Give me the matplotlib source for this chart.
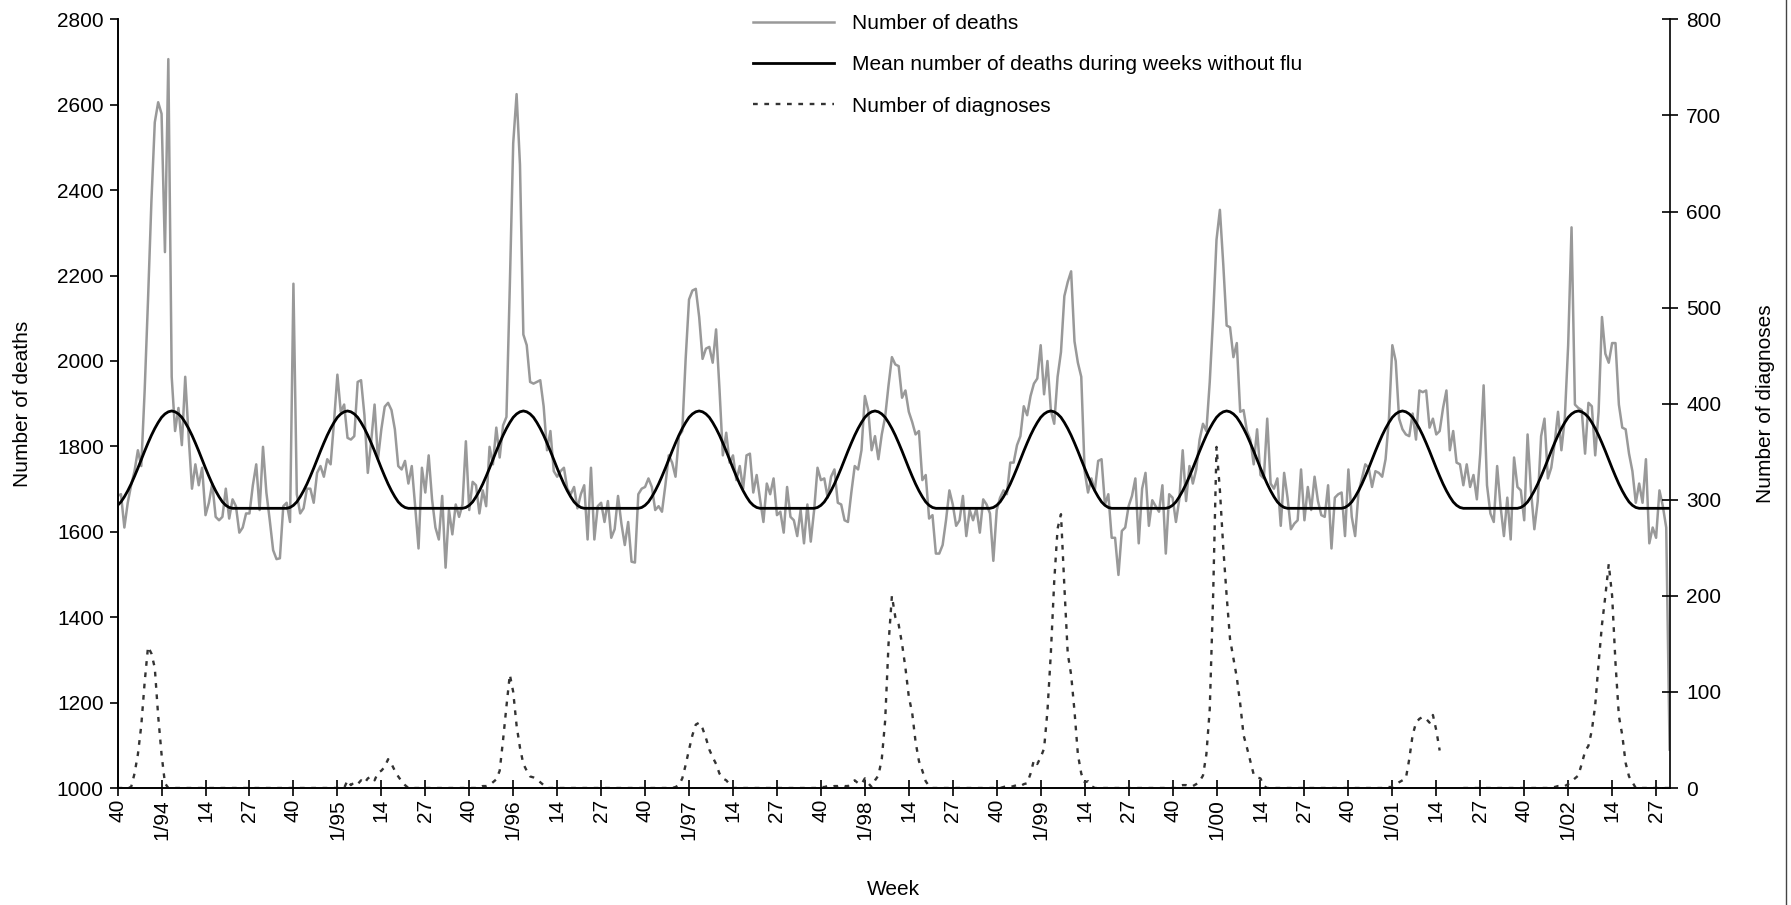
import numpy as np
import matplotlib
matplotlib.use("Agg")
import matplotlib.pyplot as plt
from matplotlib.lines import Line2D

plt.rcParams['font.family'] = ['Liberation Sans', 'DejaVu Sans']

# ---------------- data ----------------
WEEK_LABELS = ["40", "1/94", "14", "27", "40", "1/95", "14", "27", "40", "1/96", "14", "27",
               "40", "1/97", "14", "27", "40", "1/98", "14", "27", "40", "1/99", "14", "27",
               "40", "1/00", "14", "27", "40", "1/01", "14", "27", "40", "1/02", "14", "27"]

# weekly number of deaths, starting week 40 of 1993
DEATHS = [
    1684, 1688, 1610, 1668, 1709, 1742, 1791, 1754, 1930, 2144,
    2374, 2559, 2606, 2579, 2255, 2707, 1963, 1836, 1890, 1803,
    1963, 1824, 1701, 1758, 1709, 1750, 1639, 1668, 1713, 1635,
    1627, 1635, 1701, 1631, 1676, 1660, 1598, 1610, 1643, 1643,
    1709, 1758, 1651, 1799, 1692, 1627, 1557, 1536, 1538, 1660,
    1668, 1623, 2181, 1688, 1643, 1655, 1701, 1701, 1668, 1738,
    1754, 1729, 1770, 1758, 1857, 1968, 1881, 1898, 1820, 1816,
    1824, 1951, 1955, 1873, 1738, 1812, 1898, 1770, 1840, 1893,
    1902, 1885, 1840, 1754, 1746, 1766, 1713, 1754, 1660, 1561,
    1750, 1692, 1779, 1676, 1610, 1582, 1684, 1516, 1651, 1594,
    1664, 1635, 1664, 1812, 1651, 1717, 1709, 1643, 1697, 1660,
    1799, 1758, 1844, 1774, 1849, 1869, 2177, 2510, 2625, 2460,
    2062, 2037, 1951, 1947, 1951, 1955, 1894, 1791, 1836, 1742,
    1729, 1742, 1750, 1701, 1688, 1705, 1655, 1688, 1709, 1582,
    1750, 1582, 1660, 1668, 1623, 1672, 1586, 1606, 1684, 1619,
    1569, 1623, 1530, 1528, 1688, 1701, 1705, 1725, 1705, 1651,
    1660, 1647, 1709, 1779, 1762, 1729, 1824, 1836, 2005, 2144,
    2165, 2169, 2103, 2005, 2029, 2033, 1996, 2074, 1935, 1779,
    1832, 1762, 1779, 1721, 1754, 1701, 1779, 1783, 1692, 1733,
    1676, 1623, 1713, 1688, 1725, 1639, 1647, 1598, 1705, 1635,
    1627, 1590, 1651, 1573, 1664, 1577, 1651, 1750, 1721, 1725,
    1680, 1729, 1746, 1668, 1664, 1627, 1623, 1692, 1754, 1746,
    1791, 1918, 1885, 1791, 1824, 1770, 1828, 1869, 1943, 2009,
    1992, 1988, 1914, 1931, 1881, 1857, 1828, 1836, 1721, 1733,
    1631, 1639, 1549, 1549, 1569, 1627, 1697, 1664, 1614, 1627,
    1684, 1590, 1651, 1627, 1655, 1598, 1676, 1664, 1643, 1532,
    1651, 1680, 1697, 1688, 1762, 1762, 1803, 1824, 1894, 1873,
    1918, 1947, 1959, 2037, 1922, 2000, 1885, 1853, 1963, 2021,
    2152, 2185, 2210, 2046, 1996, 1963, 1742, 1692, 1725, 1697,
    1766, 1770, 1664, 1688, 1586, 1586, 1499, 1602, 1610, 1660,
    1684, 1725, 1573, 1701, 1738, 1614, 1674, 1660, 1647, 1709,
    1549, 1688, 1680, 1623, 1676, 1791, 1672, 1754, 1713, 1746,
    1816, 1853, 1836, 1951, 2103, 2284, 2354, 2226, 2083, 2079,
    2009, 2042, 1881, 1885, 1836, 1816, 1758, 1840, 1733, 1725,
    1865, 1713, 1701, 1725, 1614, 1738, 1680, 1606, 1619, 1627,
    1746, 1627, 1705, 1651, 1729, 1672, 1639, 1635, 1709, 1561,
    1680, 1688, 1692, 1590, 1746, 1635, 1590, 1692, 1725, 1758,
    1750, 1705, 1742, 1738, 1729, 1770, 1865, 2037, 2000, 1865,
    1840, 1828, 1824, 1877, 1816, 1931, 1927, 1931, 1844, 1865,
    1828, 1836, 1890, 1931, 1791, 1836, 1762, 1758, 1709, 1758,
    1705, 1733, 1676, 1783, 1943, 1709, 1643, 1623, 1754, 1660,
    1590, 1680, 1582, 1774, 1705, 1697, 1627, 1828, 1697, 1606,
    1672, 1824, 1865, 1725, 1750, 1807, 1881, 1791, 1865, 2037,
    2313, 1898, 1890, 1885, 1783, 1902, 1894, 1779, 1881, 2103,
    2017, 1996, 2042, 2042, 1898, 1844, 1840, 1783, 1742, 1668,
    1713, 1668, 1770, 1573, 1610, 1586, 1697, 1660, 1610, 1090,
]

# mean deaths in weeks without flu, for one season (week 40 .. week 39)
MEAN_SEASON = [
    1662, 1670, 1682, 1696, 1712, 1730, 1749, 1769, 1789, 1808,
    1826, 1842, 1856, 1868, 1876, 1881, 1883, 1881, 1876, 1868,
    1856, 1842, 1826, 1808, 1789, 1769, 1749, 1730, 1712, 1696,
    1682, 1670, 1662, 1657, 1655, 1655, 1655, 1655, 1655, 1655,
    1655, 1655, 1655, 1655, 1655, 1655, 1655, 1655, 1655, 1655,
    1655, 1657,
]

# number of diagnoses: (first week index, values); other weeks are 0
DIAG_EPISODES = [
    (4,   [1, 15, 35, 65, 110, 147, 140, 125, 75, 35, 5]),
    (68,  [8, 3, 6, 4, 8, 5, 10, 12, 8, 16, 18, 22, 30, 25, 18, 12, 7, 3]),
    (108, [2, 2, 3, 6, 9, 18, 50, 85, 118, 100, 65, 42, 25, 18, 12, 11, 9, 6, 3]),
    (165, [1, 3, 10, 24, 40, 55, 66, 68, 62, 52, 40, 32, 25, 15, 10, 8, 4]),
    (208, [1, 1, 2, 1, 2, 2, 3, 2, 2, 5, 8, 5, 4, 10, 5, 1, 8, 13, 30, 70, 150,
           200, 178, 170, 150, 125, 95, 78, 48, 28, 18, 7, 2]),
    (262, [1, 2, 1, 2, 3, 2, 4, 5, 15, 29, 25, 32, 41, 80, 140, 215, 270, 285,
           210, 140, 118, 80, 35, 15, 6, 7, 2]),
    (314, [2, 3, 3, 2, 2, 4, 7, 13, 35, 82, 200, 355, 310, 250, 200, 155, 135,
           115, 88, 55, 42, 28, 14, 11, 10, 2]),
    (376, [1, 1, 3, 6, 8, 10, 30, 55, 68, 72, 74, 72, 68, 76, 60, 39]),
    (424, [1, 1, 2, 2, 2, 4, 7, 10, 13, 25, 38, 44, 60, 86, 130, 170, 200, 233,
           200, 130, 75, 55, 26, 12, 6]),
]
DIAG_MISSING = [(392, 397)]   # weeks without reported diagnoses

# ---------------- build series ----------------
deaths = np.array(DEATHS, dtype=float)
n = len(deaths)
weeks = np.arange(n)
mean_line = np.array([MEAN_SEASON[i % len(MEAN_SEASON)] for i in weeks], dtype=float)
diag = np.zeros(n)
for start, vals in DIAG_EPISODES:
    diag[start:start + len(vals)] = vals
for a, b in DIAG_MISSING:
    diag[a:b + 1] = np.nan

# ---------------- figure ----------------
W, H = 1791, 905
fig = plt.figure(figsize=(W / 100, H / 100), dpi=100)
L, R, T, B = 117.6, 1669.6, 19.4, 788.0
ax = fig.add_axes([L / W, 1 - B / H, (R - L) / W, (B - T) / H])
ax2 = ax.twinx()

FS = 15
l1, = ax.plot(weeks, deaths, color='#999999', lw=1.8, label='Number of deaths', zorder=2)
l2, = ax.plot(weeks, mean_line, color='black', lw=2.0,
              label='Mean number of deaths during weeks without flu', zorder=3)
l3, = ax2.plot(weeks, diag, color='#333333', lw=1.7, linestyle=(0, (2, 2.8)),
               label='Number of diagnoses')

ax.set_xlim(0, n - 1)
ax.set_ylim(1000, 2800)
ax2.set_ylim(0, 800)

ax.set_yticks(np.arange(1000, 2801, 200))
ax2.set_yticks(np.arange(0, 801, 100))
ax.set_xticks(np.arange(0, 13 * len(WEEK_LABELS), 13))
ax.set_xticklabels(WEEK_LABELS, rotation=90, fontsize=FS)

for a in (ax, ax2):
    a.spines['top'].set_visible(False)
    for s in a.spines.values():
        s.set_linewidth(1.2)
ax.spines['right'].set_visible(False)

ax.tick_params(axis='y', direction='out', length=6, width=1.2, labelsize=FS, pad=4)
ax.tick_params(axis='x', direction='inout', length=12, width=1.2, labelsize=FS, pad=2)
ax2.tick_params(axis='y', direction='inout', length=12, width=1.2, labelsize=FS, pad=6)

ax.set_ylabel('Number of deaths', fontsize=FS)
ax.yaxis.set_label_coords(-0.0552, 0.5)
ax2.set_ylabel('Number of diagnoses', fontsize=FS, rotation=90)
ax2.yaxis.set_label_coords(1.0558, 0.5)
ax.set_xlabel('Week', fontsize=FS)
ax.xaxis.set_label_coords(0.5, -0.120)

leg = ax2.legend(handles=[l1, l2, l3], loc='upper left', frameon=False,
                 bbox_to_anchor=(753 / W, 1 - 14 / H), bbox_transform=fig.transFigure,
                 fontsize=FS, handlelength=3.9, handletextpad=0.85, labelspacing=1.07,
                 borderpad=0, borderaxespad=0)

fig.add_artist(Line2D([1786 / W, 1786 / W], [0, 1], transform=fig.transFigure,
                      color='#444444', lw=1.0))

fig.savefig('out.png', dpi=100)
